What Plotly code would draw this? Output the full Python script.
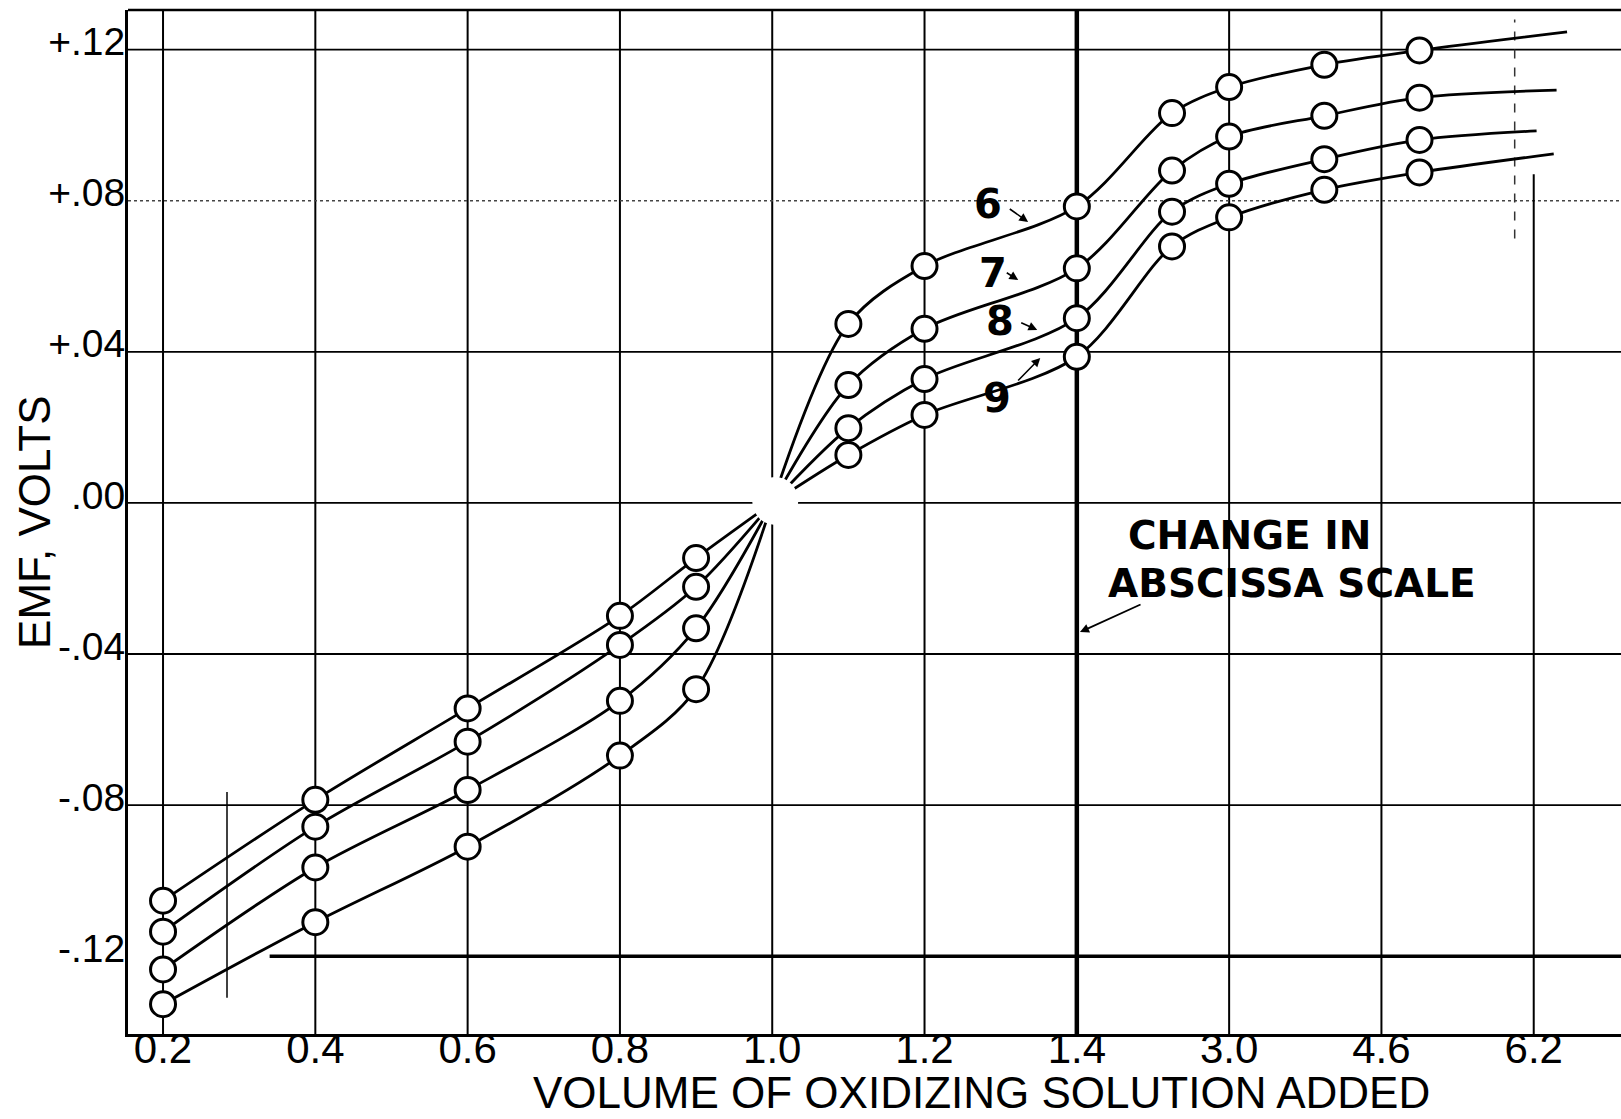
import plotly.graph_objects as go

# ---- data ----
tick_volumes = [0.2, 0.4, 0.6, 0.8, 1.0, 1.2, 1.4, 3.0, 4.6, 6.2]
tick_text = ["0.2", "0.4", "0.6", "0.8", "1.0", "1.2", "1.4", "3.0", "4.6", "6.2"]
y_tickvals = [0.12, 0.08, 0.04, 0.0, -0.04, -0.08, -0.12]
y_ticktext = ["+.12", "+.08", "+.04", ".00", "-.04", "-.08", "-.12"]

series_names = ["6", "7", "8", "9"]

x_low = [0.2, 0.4, 0.6, 0.8, 0.9]
emf_low = {
    "6": [-0.1053, -0.0786, -0.0544, -0.0299, -0.0146],
    "7": [-0.1135, -0.0857, -0.0632, -0.0376, -0.0222],
    "8": [-0.1235, -0.0965, -0.0760, -0.0524, -0.0332],
    "9": [-0.1327, -0.1110, -0.0910, -0.0669, -0.0493],
}

x_high = [1.1, 1.2, 1.4, 2.4, 3.0, 4.0, 5.0]
emf_high = {
    "6": [0.0474, 0.0627, 0.0785, 0.1032, 0.1101, 0.1160, 0.1198],
    "7": [0.0312, 0.0461, 0.0621, 0.0880, 0.0970, 0.1025, 0.1073],
    "8": [0.0198, 0.0328, 0.0489, 0.0771, 0.0845, 0.0910, 0.0961],
    "9": [0.0127, 0.0233, 0.0387, 0.0679, 0.0756, 0.0829, 0.0875],
}

# common point where all curves meet, and where each drawn curve ends
conv_x, conv_y = 1.0, 0.0
curve_end_x = {"6": 6.55, "7": 6.44, "8": 6.23, "9": 6.41}
curve_end_y = {"6": 0.1247, "7": 0.1093, "8": 0.0985, "9": 0.0924}

# curve labels: text centre, arrow tail, arrow tip (volume, emf)
label_text_pos = {"6": (1.283, 0.0791), "7": (1.290, 0.0609), "8": (1.299, 0.0482), "9": (1.295, 0.0278)}
label_tail_pos = {"6": (1.310, 0.0781), "7": (1.306, 0.0612), "8": (1.325, 0.0479), "9": (1.321, 0.0320)}
label_tip_pos = {"6": (1.336, 0.0744), "7": (1.323, 0.0590), "8": (1.348, 0.0458), "9": (1.352, 0.0384)}


# abscissa scale changes after 1.4: 0.2 per division below, 1.6 per division above
def pos(v):
    if v <= 1.4:
        return (v - 0.2) / 0.2
    return 6 + (v - 1.4) / 1.6


FONT = "Liberation Sans, Arial, sans-serif"
BOLD = "DejaVu Sans, sans-serif"
fig = go.Figure()

for s in series_names:
    lx = [pos(v) for v in x_low] + [pos(conv_x)]
    ly = emf_low[s] + [conv_y]
    fig.add_trace(go.Scatter(x=lx, y=ly, mode="lines",
                             line=dict(color="black", width=2.8, shape="spline", smoothing=0.9),
                             hoverinfo="skip", showlegend=False))
    ux = [pos(conv_x)] + [pos(v) for v in x_high] + [pos(curve_end_x[s])]
    uy = [conv_y] + emf_high[s] + [curve_end_y[s]]
    fig.add_trace(go.Scatter(x=ux, y=uy, mode="lines",
                             line=dict(color="black", width=2.8, shape="spline", smoothing=0.9),
                             hoverinfo="skip", showlegend=False))

for s in series_names:
    mx = [pos(v) for v in x_low + x_high]
    my = emf_low[s] + emf_high[s]
    fig.add_trace(go.Scatter(x=mx, y=my, mode="markers", name=s,
                             marker=dict(symbol="circle", size=25, color="white",
                                         line=dict(color="black", width=3)),
                             showlegend=False))

shapes = []
for v in tick_volumes:
    w = 4.5 if v == 1.4 else 2.0
    if v == 6.2:
        shapes.append(dict(type="line", xref="x", yref="y", x0=pos(v), x1=pos(v), y0=-0.1406, y1=0.087,
                           line=dict(color="black", width=w), layer="below"))
    else:
        shapes.append(dict(type="line", xref="x", yref="paper", x0=pos(v), x1=pos(v), y0=0, y1=1,
                           line=dict(color="black", width=w), layer="below"))
# faint dashed vertical near the right edge
shapes.append(dict(type="line", xref="x", yref="y", x0=pos(6.0), x1=pos(6.0), y0=0.070, y1=0.128,
                   line=dict(color="#333", width=1.5, dash="dash"), layer="below"))
for yv in y_tickvals:
    if yv == -0.12:
        shapes.append(dict(type="line", xref="x", yref="y", x0=0.70, x1=9.6, y0=yv, y1=yv,
                           line=dict(color="black", width=3.5), layer="below"))
    elif yv == 0.08:
        shapes.append(dict(type="line", xref="paper", yref="y", x0=0, x1=1, y0=yv, y1=yv,
                           line=dict(color="#444", width=1.4, dash="dot"), layer="below"))
    else:
        shapes.append(dict(type="line", xref="paper", yref="y", x0=0, x1=1, y0=yv, y1=yv,
                           line=dict(color="black", width=1.8), layer="below"))
shapes.append(dict(type="line", xref="x", yref="y", x0=0.42, x1=0.42, y0=-0.0765, y1=-0.131,
                   line=dict(color="black", width=1.5), layer="below"))
shapes.append(dict(type="line", xref="paper", yref="paper", x0=0, x1=1, y0=1, y1=1,
                   line=dict(color="black", width=2.5)))
shapes.append(dict(type="circle", xref="x", yref="y", xsizemode="pixel", ysizemode="pixel",
                   xanchor=pos(conv_x), yanchor=conv_y, x0=-20, x1=26, y0=-22, y1=26,
                   fillcolor="white", line=dict(width=0), layer="above"))

annotations = []
for s in series_names:
    tx, ty = label_text_pos[s]
    ax_, ay_ = label_tail_pos[s]
    hx, hy = label_tip_pos[s]
    annotations.append(dict(x=pos(tx), y=ty, xref="x", yref="y", text="<b>%s</b>" % s,
                            showarrow=False, xanchor="center", yanchor="middle",
                            font=dict(family=BOLD, size=40, color="black")))
    annotations.append(dict(x=pos(hx), y=hy, ax=pos(ax_), ay=ay_, axref="x", ayref="y",
                            xref="x", yref="y", text="", showarrow=True, arrowhead=2,
                            arrowsize=1.1, arrowwidth=1.6, arrowcolor="black", standoff=0))

annotations.append(dict(x=pos(3.219), y=-0.0085, xref="x", yref="y", text="<b>CHANGE IN</b>",
                        showarrow=False, xanchor="center", yanchor="middle",
                        font=dict(family=BOLD, size=39, color="black")))
annotations.append(dict(x=pos(3.656), y=-0.0212, xref="x", yref="y", text="<b>ABSCISSA SCALE</b>",
                        showarrow=False, xanchor="center", yanchor="middle",
                        font=dict(family=BOLD, size=39, color="black")))
annotations.append(dict(x=pos(1.433), y=-0.0342, ax=pos(2.085), ay=-0.0267, axref="x", ayref="y",
                        xref="x", yref="y", text="", showarrow=True, arrowhead=2, arrowsize=1,
                        arrowwidth=1.8, arrowcolor="black", standoff=0))

annotations.append(dict(x=-0.063, y=0.50, xref="paper", yref="paper", text="EMF, VOLTS",
                        textangle=-90, showarrow=False, xanchor="center", yanchor="middle",
                        font=dict(family=FONT, size=44, color="black")))
annotations.append(dict(x=0.572, y=-0.0576, xref="paper", yref="paper",
                        text="VOLUME OF OXIDIZING SOLUTION ADDED", showarrow=False,
                        xanchor="center", yanchor="middle",
                        font=dict(family=FONT, size=44, color="black")))

fig.update_layout(
    width=1621, height=1119,
    margin=dict(l=128, r=0, t=10, b=85),
    paper_bgcolor="white", plot_bgcolor="white",
    shapes=shapes, annotations=annotations,
    xaxis=dict(range=[-0.23, 9.573], tickvals=[pos(v) for v in tick_volumes], ticktext=tick_text,
               showgrid=False, zeroline=False, showline=True, linecolor="black", linewidth=3,
               ticks="", ticklabelstandoff=-24,
               tickfont=dict(family=FONT, size=42, color="black")),
    yaxis=dict(range=[-0.1406, 0.1305], tickvals=y_tickvals, ticktext=y_ticktext,
               showgrid=False, zeroline=False, showline=True, linecolor="black", linewidth=3,
               ticks="", ticklabelstandoff=-8, ticklabelshift=-8,
               tickfont=dict(family=FONT, size=39, color="black")),
)

fig.write_html("out.html")
